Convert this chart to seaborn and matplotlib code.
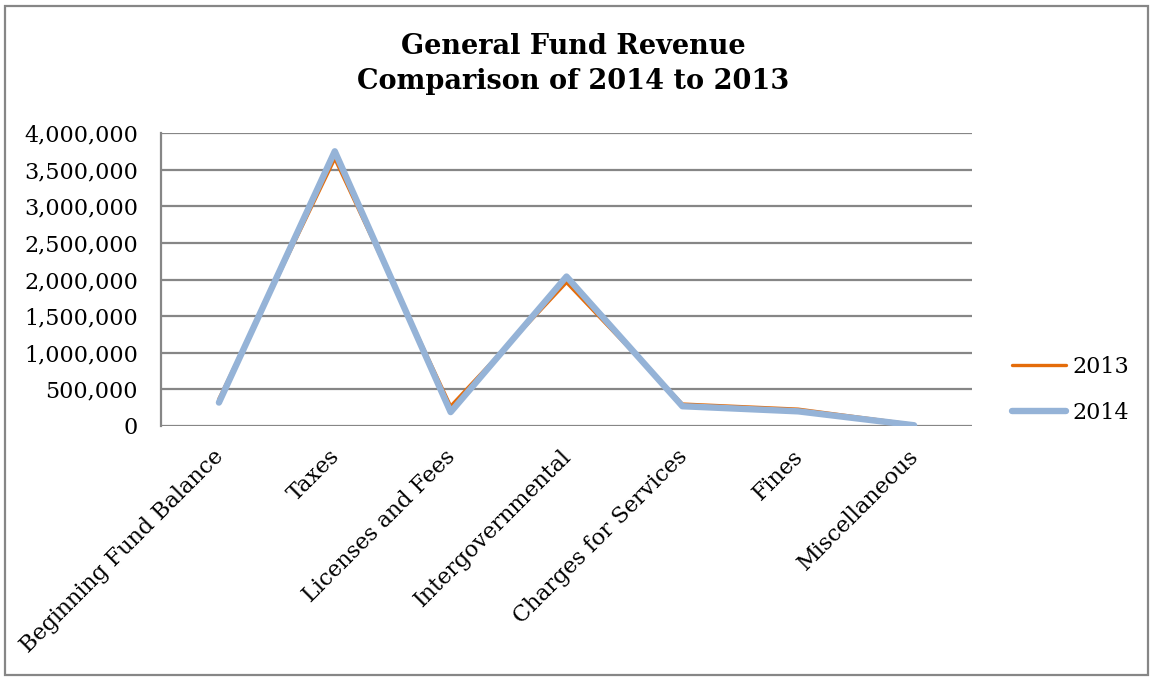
import matplotlib
matplotlib.use("Agg")
import matplotlib.pyplot as plt
import matplotlib.ticker as mticker
from matplotlib.patches import Rectangle
from matplotlib.transforms import ScaledTranslation
import pandas as pd
import seaborn as sns

categories = ["Beginning Fund Balance", "Taxes", "Licenses and Fees",
              "Intergovernmental", "Charges for Services", "Fines", "Miscellaneous"]
revenue_2013 = [370000, 3650000, 270000, 1960000, 300000, 230000, 20000]
revenue_2014 = [320000, 3750000, 190000, 2040000, 270000, 200000, 10000]
years = ["2013", "2014"]
y_ticks = [0, 500000, 1000000, 1500000, 2000000, 2500000, 3000000, 3500000, 4000000]

df = pd.DataFrame({
    "category": categories * 2,
    "pos": list(range(len(categories))) * 2,
    "value": revenue_2013 + revenue_2014,
    "year": [years[0]] * len(categories) + [years[1]] * len(categories),
})

sns.set_theme(style="white")
plt.rcParams["font.family"] = ["DejaVu Serif"]
plt.rcParams["text.color"] = "black"

W, H = 1154, 677
fig = plt.figure(figsize=(W / 100, H / 100), dpi=100)
ax = fig.add_axes([161 / W, 1 - 426 / H, (972 - 161) / W, (426 - 133) / H])

grid_color = "#868686"
styles = {"2013": ("#E46C0A", 2.4), "2014": ("#95B3D7", 4.6)}
for yr in years:
    color, lw = styles[yr]
    sns.lineplot(data=df[df["year"] == yr], x="pos", y="value", ax=ax,
                 color=color, linewidth=lw, label=yr,
                 solid_joinstyle="round", solid_capstyle="round")

label_size = 16
ax.set_xlim(-0.5, len(categories) - 0.5)
ax.set_ylim(0, 4000000)
ax.set_yticks(y_ticks)
ax.yaxis.set_major_formatter(mticker.FuncFormatter(lambda v, p: f"{int(v):,}"))
ax.set_xticks(range(len(categories)))
ax.set_xticklabels(categories, rotation=45, ha="right", va="top",
                   rotation_mode="anchor")
ax.tick_params(axis="both", length=0, labelsize=label_size, colors="black")
ax.tick_params(axis="y", pad=16.5)
ax.tick_params(axis="x", pad=14)
shift = ScaledTranslation(-6 / 100, 0, fig.dpi_scale_trans)
for lbl in ax.get_xticklabels():
    lbl.set_transform(lbl.get_transform() + shift)
ax.set_xlabel("")
ax.set_ylabel("")

ax.grid(axis="y", color=grid_color, linewidth=1.6)
ax.grid(axis="x", visible=False)
ax.set_axisbelow(True)
for side in ["top", "right", "bottom"]:
    ax.spines[side].set_visible(False)
ax.spines["left"].set_color(grid_color)
ax.spines["left"].set_linewidth(1.6)

ax.get_legend().remove()
handles, labels = ax.get_legend_handles_labels()
fig.legend(handles, labels, loc="center left",
           bbox_to_anchor=(1012 / W, 1 - 390 / H), frameon=False,
           borderpad=0, borderaxespad=0,
           fontsize=label_size, handlelength=2.45, handletextpad=0.25,
           labelspacing=1.1)

fig.text(573 / W, 1 - 64 / H, "General Fund Revenue\nComparison of 2014 to 2013",
         ha="center", va="center", fontsize=19.5, fontweight="bold",
         linespacing=1.42, color="black")

fig.patches.append(Rectangle((5 / W, 1 - 675 / H), 1143 / W, 669 / H,
                             transform=fig.transFigure, fill=False,
                             edgecolor=grid_color, linewidth=1.6))

fig.savefig("out.png", dpi=100)
